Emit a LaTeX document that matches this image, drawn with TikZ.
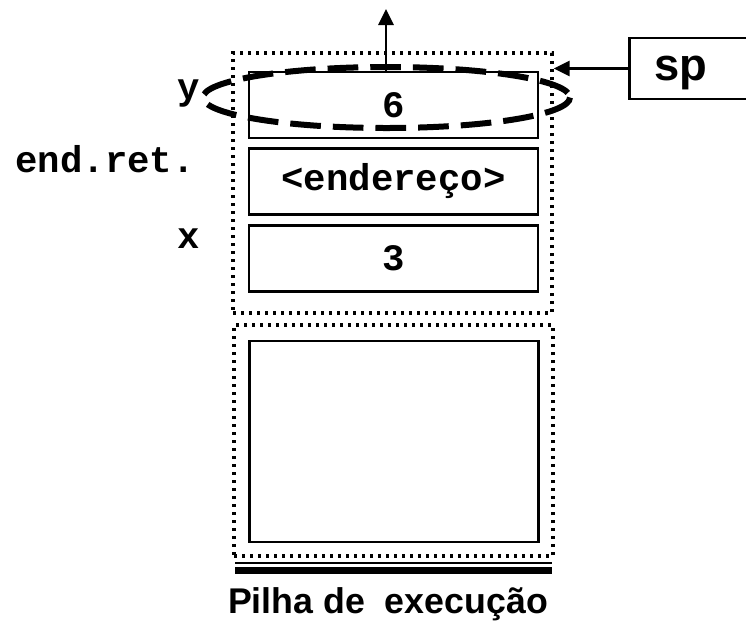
\documentclass[tikz,border=0pt]{standalone}
\usepackage{fontspec}
\setmainfont{Liberation Sans}
\newfontfamily\monobold{Liberation Mono}
\usetikzlibrary{
  arrows.meta,
  shapes
}
\newcommand{\cellfont}{\monobold\bfseries\fontsize{28}{30}\selectfont}
\tikzset{
  cell/.style={draw, line width=2.1pt, minimum width=216.75pt,
    minimum height=49.5pt, inner sep=0pt, font=\cellfont},
  frame/.style={draw, line width=2.6pt, dash pattern=on 2.4pt off 3.6pt,
    minimum width=239.25pt, inner sep=0pt},
  varname/.style={anchor=base east, inner sep=0pt, font=\cellfont},
  ring/.style={line width=4.5pt, dash pattern=on 23pt off 9pt},
  push/.style={line width=1.6pt, -{Triangle[length=12pt,width=11.5pt]}}
}

\begin{document}
\begin{tikzpicture}[x=0.75pt, y=-0.75pt]
  \useasboundingbox (0,0) rectangle (746,626);
  \def\Xc{393.5};

        % stack frames
        \node[frame, minimum height=195pt] (frameA) at (392.5, 183) {};
        \node[frame, minimum height=173.25pt] (frameB) at (393.5, 440.5) {};

        \node[cell] (cellY) at (\Xc, 105) {6};
        \node[cell] (cellRet) at (\Xc, 181.5) {<endereço>};
        \node[cell] (cellX) at (\Xc, 258.5) {3};
        \node[cell, minimum height=150.75pt] (cellFree) at (394, 441.5) {};

        \node[varname] (nameY) at (200, 99) {y};
        \node[varname] (nameRet) at (195, 172) {end.ret.};
        \node[varname] (nameX) at (200, 248) {x};

	% base of the stack
	\draw[line width=1.6pt] (235, 563) -- (552, 563);
	\draw[line width=5.4pt] (235, 570.5) -- (552, 570.5);
        \node[anchor=base, inner sep=0pt, font=\bfseries\fontsize{26.8}{30}\selectfont]
          (title) at (388, 613) {Pilha de\ \ execução};

	% stack pointer
        \node[draw, line width=2.1pt, anchor=west, minimum height=45.75pt,
          text width=75pt, align=left, inner xsep=18.75pt, inner ysep=0pt,
          text height=17.25pt, text depth=0pt,
          font=\bfseries\fontsize{34}{36}\selectfont] (sp) at (628, 68.5) {sp};
	\draw[push] (sp.west) -- (sp.west -| frameA.east);

        \coordinate (popped) at (386, 9);
	\draw[push] (cellY.north -| popped) -- (popped);

         \draw[ring] (386.5, 97.5) ellipse [x radius=183.5, y radius=30.5];
\end{tikzpicture}
\end{document}
